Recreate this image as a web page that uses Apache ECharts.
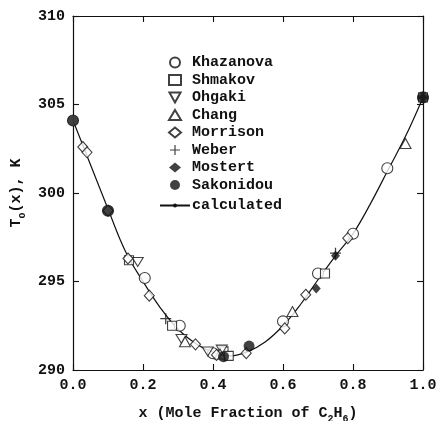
<!DOCTYPE html>
<html>
<head>
<meta charset="utf-8">
<script src="https://cdn.jsdelivr.net/npm/echarts@6/dist/echarts.min.js"></script>
<style>html,body{margin:0;padding:0;background:#fff}#c{width:437px;height:421px}</style>
</head>
<body>
<div id="c"></div>
<script>
// ---- data: [x (mole fraction C2H6), T (K)] ----
const khazanova = [[0.0,304.1],[0.1,299.0],[0.205,295.2],[0.305,292.5],[0.40,290.95],[0.60,292.75],[0.70,295.45],[0.80,297.7],[0.898,301.4],[1.0,305.4]];
const shmakov   = [[0.16,296.2],[0.283,292.5],[0.43,291.05],[0.445,290.8],[0.72,295.45],[1.0,305.4]];
const ohgaki    = [[0.185,296.1],[0.31,291.75],[0.385,291.05],[0.425,291.15]];
const chang     = [[0.32,291.6],[0.42,290.9],[0.627,293.3],[0.95,302.8]];
const morrison  = [[0.028,302.6],[0.04,302.3],[0.1,299.0],[0.157,296.3],[0.218,294.2],[0.35,291.45],[0.41,290.85],[0.495,290.95],[0.605,292.35],[0.665,294.25],[0.785,297.45]];
const weber     = [[0.265,292.9],[0.75,296.6]];
const mostert   = [[0.695,294.6],[0.75,296.45],[1.0,305.4]];
const sakonidou = [[0.0,304.1],[0.1,299.0],[0.43,290.75],[0.503,291.35],[1.0,305.4]];
const calculated = [[0,304.1],[0.05,301.6],[0.1,299.1],[0.15,296.7],[0.2,295.0],[0.25,293.5],[0.3,292.3],[0.35,291.5],[0.4,291.0],[0.45,290.8],[0.5,291.05],[0.55,291.6],[0.6,292.5],[0.65,293.7],[0.7,295.1],[0.75,296.45],[0.8,297.7],[0.85,299.4],[0.9,301.3],[0.95,303.2],[1.0,305.4]];
const xTicks = [0, 0.2, 0.4, 0.6, 0.8, 1.0];
const yTicks = [290, 295, 300, 305, 310];

const FONT = '"Liberation Mono", "DejaVu Sans Mono", monospace';
const INK = '#111';
const downTri = 'path://M0,0 L10,0 L5,9 Z';
const plusPath = 'path://M4.4,0 H5.6 V4.4 H10 V5.6 H5.6 V10 H4.4 V5.6 H0 V4.4 H4.4 Z';
const openStyle = {color:'#fff', borderColor:INK, borderWidth:1.1};
const fillStyle = {color:INK, borderColor:INK, borderWidth:0};

function sc(name, data, symbol, size, style){
  return {name, type:'scatter', data, symbol, symbolSize:size, symbolKeepAspect:true, itemStyle:style, z:3, xAxisIndex:0, yAxisIndex:0};
}

const chart = echarts.init(document.getElementById('c'), null, {renderer:'canvas'});
function axisCommon(){ return {
  axisLine:{show:true, onZero:false, lineStyle:{color:INK, width:1.2}},
  axisTick:{show:true, inside:true, length:6, lineStyle:{color:INK, width:1.1}},
  splitLine:{show:false}
};}
const subRich = {sub:{fontFamily:FONT, fontSize:10, fontWeight:'bold', color:INK, verticalAlign:'bottom', lineHeight:22, padding:[6,0,0,0]}};
const legendText = {fontFamily:FONT, fontSize:15, fontWeight:'bold', color:INK};
chart.setOption({
  animation:false,
  backgroundColor:'#fff',
  grid:{left:73, right:14, top:16, bottom:51, containLabel:false, outerBoundsMode:'none'},
  legend:[{
    orient:'vertical', left:168, top:55, padding:0, itemWidth:12, itemHeight:10, itemGap:2.5,
    textStyle:Object.assign({padding:[0,0,0,6]}, legendText),
    data:['Khazanova','Shmakov','Ohgaki','Chang','Morrison','Weber','Mostert','Sakonidou']
  },{
    orient:'vertical', left:159, top:198, padding:0, itemWidth:30, itemHeight:5,
    textStyle:Object.assign({padding:[0,0,0,-3]}, legendText),
    data:['calculated']
  }],
  xAxis:[Object.assign({
    type:'value', min:xTicks[0], max:xTicks[xTicks.length-1], interval:0.2, position:'bottom',
    axisLabel:{margin:8, fontFamily:FONT, fontSize:15, fontWeight:'bold', color:INK, formatter:v=>v.toFixed(1)},
    name:'x (Mole Fraction of C{sub|2}H{sub|6})', nameLocation:'middle', nameGap:32,
    nameTextStyle:{fontFamily:FONT, fontSize:15, fontWeight:'bold', color:INK, rich:subRich}
  }, axisCommon()), Object.assign({
    type:'value', min:0, max:1, interval:0.2, position:'top', axisLabel:{show:false}
  }, axisCommon())],
  yAxis:[Object.assign({
    type:'value', min:yTicks[0], max:yTicks[yTicks.length-1], interval:5, position:'left',
    axisLabel:{margin:8, fontFamily:FONT, fontSize:15, fontWeight:'bold', color:INK},
    name:'T{sub|o}(x), K', nameLocation:'middle', nameGap:29,
    nameTextStyle:{fontFamily:FONT, fontSize:15, fontWeight:'bold', color:INK, rich:subRich}
  }, axisCommon()), Object.assign({
    type:'value', min:290, max:310, interval:5, position:'right', axisLabel:{show:false}
  }, axisCommon())],
  series:[
    {name:'calculated', type:'line', data:calculated, smooth:0.4, symbol:'none', showSymbol:false,
     lineStyle:{color:INK, width:1.2}, itemStyle:{color:INK}, z:2},
    sc('Khazanova', khazanova, 'circle', 11, openStyle),
    sc('Shmakov', shmakov, 'rect', 9, openStyle),
    sc('Ohgaki', ohgaki, downTri, [11,10], openStyle),
    sc('Chang', chang, 'triangle', [11,10], openStyle),
    sc('Morrison', morrison, 'diamond', [10,11], openStyle),
    sc('Weber', weber, plusPath, 11, fillStyle),
    sc('Mostert', mostert, 'diamond', [9,10], fillStyle),
    sc('Sakonidou', sakonidou, 'circle', 11, fillStyle)
  ]
});
</script>
</body>
</html>
